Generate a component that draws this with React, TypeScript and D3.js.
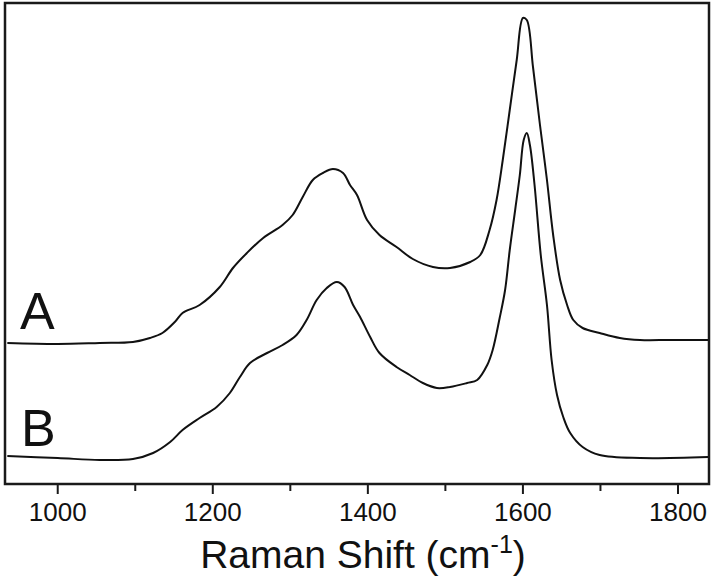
import React from "react";
import * as d3 from "d3";

// Raman spectra (intensity in arbitrary units, B sits below A)
const wnA = [935, 1000, 1054, 1097, 1119, 1135, 1151, 1161, 1183, 1209, 1226, 1244, 1265, 1290, 1303, 1316, 1329, 1342, 1355, 1368, 1377, 1386, 1399, 1415, 1437, 1458, 1484, 1506, 1532, 1545, 1557, 1566, 1574, 1583, 1592, 1600, 1605, 1613, 1622, 1631, 1639, 1648, 1657, 1665, 1677, 1699, 1725, 1751, 1790, 1839];
const intA = [141, 140, 141, 142, 146, 151, 162, 171, 179, 197, 216, 231, 246, 259, 269, 287, 304, 311, 315, 311, 299, 289, 264, 249, 237, 225, 217, 216, 222, 229, 254, 284, 324, 374, 424, 466, 464, 417, 359, 304, 249, 204, 179, 164, 156, 151, 146, 144, 144, 144];

const wnB = [935, 1000, 1054, 1097, 1123, 1145, 1161, 1183, 1205, 1222, 1235, 1248, 1270, 1290, 1308, 1321, 1334, 1347, 1360, 1370, 1381, 1390, 1403, 1415, 1437, 1454, 1471, 1489, 1506, 1528, 1541, 1554, 1561, 1570, 1577, 1583, 1590, 1596, 1601, 1605, 1609, 1615, 1623, 1631, 1637, 1644, 1652, 1661, 1677, 1699, 1751, 1839];
const intB = [28, 26, 24, 25, 31, 42, 54, 66, 77, 91, 107, 121, 131, 139, 149, 164, 184, 196, 202, 197, 179, 167, 147, 131, 117, 109, 101, 96, 97, 101, 104, 119, 134, 166, 194, 234, 274, 309, 344, 351, 339, 299, 229, 179, 124, 89, 67, 51, 37, 29, 26, 27];

const majorTicks = [1000, 1200, 1400, 1600, 1800];
const minorTicks = [1100, 1300, 1500, 1700];
const seriesLabels = ["A", "B"];

const W = 715, H = 581;
const left = 5, right = 709, top = 3, bottom = 484;

export default function App() {
  const x = d3.scaleLinear().domain([932, 1840]).range([left, right]);
  const y = d3.scaleLinear().domain([0, 481]).range([bottom, top]);

  const line = d3.line<[number, number]>()
    .x(d => x(d[0]))
    .y(d => y(d[1]))
    .curve(d3.curveCatmullRom.alpha(0.5));

  const ptsA = wnA.map((w, i) => [w, intA[i]] as [number, number]);
  const ptsB = wnB.map((w, i) => [w, intB[i]] as [number, number]);

  const font = "'Liberation Sans', Arial, sans-serif";

  return (
    <svg width={W} height={H} style={{ position: "absolute", left: 0, top: 0, background: "#fff" }}>
      <path d={line(ptsA) || ""} fill="none" stroke="#111" strokeWidth={2} />
      <path d={line(ptsB) || ""} fill="none" stroke="#111" strokeWidth={2} />

      <rect x={left} y={top} width={right - left} height={bottom - top} fill="none" stroke="#1a1a1a" strokeWidth={2.5} />

      {majorTicks.map(t => (
        <g key={t}>
          <line x1={x(t)} x2={x(t)} y1={bottom} y2={bottom + 10} stroke="#1a1a1a" strokeWidth={2} />
          <text x={x(t)} y={521} textAnchor="middle" fontFamily={font} fontSize={26} fill="#111">{t}</text>
        </g>
      ))}
      {minorTicks.map(t => (
        <line key={t} x1={x(t)} x2={x(t)} y1={bottom} y2={bottom + 7} stroke="#1a1a1a" strokeWidth={2} />
      ))}

      <text x={363} y={568} textAnchor="middle" fontFamily={font} fontSize={39} fill="#111">
        Raman Shift (cm<tspan fontSize={25} dy={-15}>-1</tspan><tspan dy={15}>)</tspan>
      </text>

      <text x={20} y={329} fontFamily={font} fontSize={52} fill="#111">{seriesLabels[0]}</text>
      <text x={21} y={446} fontFamily={font} fontSize={52} fill="#111">{seriesLabels[1]}</text>
    </svg>
  );
}
